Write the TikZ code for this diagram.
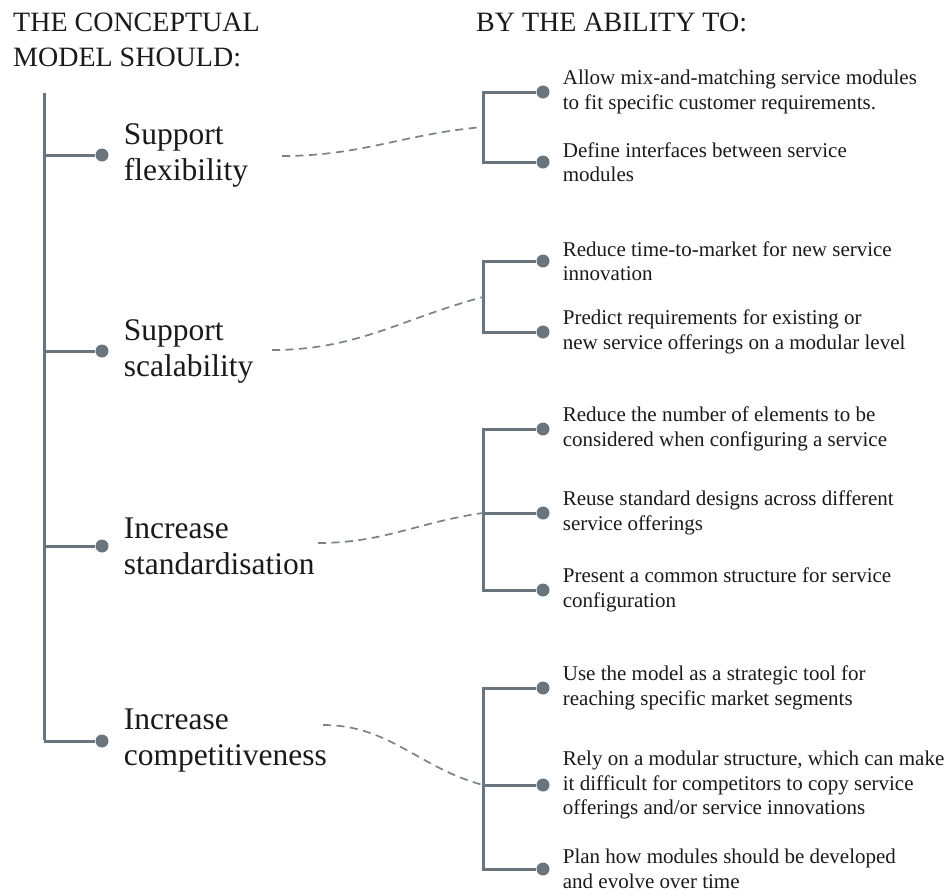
\documentclass[tikz,border=0pt]{standalone}
\usepackage{fontspec}
\setmainfont{Liberation Serif}
\usetikzlibrary{positioning}

\definecolor{slate}{RGB}{106,116,124}
\definecolor{ink}{RGB}{26,26,26}

\tikzset{
  spine/.style={draw=slate, line width=3pt},
  knob/.style={circle, fill=slate, inner sep=0pt, minimum size=13pt},
  link/.style={draw=slate!90, line width=1.7pt, dash pattern=on 8pt off 5.5pt},
  heading/.style={anchor=north west, align=left, inner sep=0pt, text=ink,
    font=\fontsize{28}{35}\selectfont},
  goal/.style={align=left, inner sep=0pt, text=ink,
    font=\fontsize{31.5}{36}\selectfont},
  ability/.style={align=left, inner sep=0pt, text=ink,
    font=\fontsize{21}{24.5}\selectfont},
}

\begin{document}
\begin{tikzpicture}[x=1pt,y=-1pt]
  \useasboundingbox (0,0) rectangle (951,895);

  % headings
  \node[heading] (hleft) at (13,13) {THE CONCEPTUAL\\MODEL SHOULD:};
  \node[heading] (hright) at (476,13) {BY THE ABILITY TO:};

  % left spine
  \coordinate (top) at (44,93);
  \foreach \n/\y in {1/155,2/351,3/546,4/741}{
    \coordinate (s\n) at (44,\y);
    \node[knob] (d\n) at (102,\y) {};
    \draw[spine] (s\n) -- (d\n);
  }
  \draw[spine] (top) -- ([yshift=1.5pt]s4);

  \node[goal, right=15pt of d1] (g1) {Support\\flexibility};
  \node[goal, right=15pt of d2] (g2) {Support\\scalability};
  \node[goal, right=15pt of d3] (g3) {Increase\\standardisation};
  \node[goal, right=15pt of d4] (g4) {Increase\\competitiveness};

  % right brackets
  \coordinate (b1) at (483,127);
  \coordinate (b2) at (483,297);
  \coordinate (b3) at (483,513);
  \coordinate (b4) at (483,785);

  \node[knob] (r11) at (543,92) {};
  \node[knob] (r12) at (543,162) {};
  \node[knob] (r21) at (543,261) {};
  \node[knob] (r22) at (543,332) {};
  \node[knob] (r31) at (543,429) {};
  \node[knob] (r32) at (543,513) {};
  \node[knob] (r33) at (543,590) {};
  \node[knob] (r41) at (543,688) {};
  \node[knob] (r42) at (543,785) {};
  \node[knob] (r43) at (543,869) {};

  \draw[spine] (r11) -| (b1) |- (r12);
  \draw[spine] (r21) -| (b2) |- (r22);
  \draw[spine] (r31) -| (b3) |- (r33);
  \draw[spine] (b3) -- (r32);
  \draw[spine] (r41) -| (b4) |- (r43);
  \draw[spine] (b4) -- (r42);

  \node[ability, right=13pt of r11] (t11) {Allow mix-and-matching service modules\\to fit specific customer requirements.};
  \node[ability, right=13pt of r12] (t12) {Define interfaces between service\\modules};
  \node[ability, right=13pt of r21] (t21) {Reduce time-to-market for new service\\innovation};
  \node[ability, right=13pt of r22] (t22) {Predict requirements for existing or\\new service offerings on a modular level};
  \node[ability, right=13pt of r31] (t31) {Reduce the number of elements to be\\considered when configuring a service};
  \node[ability, right=13pt of r32] (t32) {Reuse standard designs across different\\service offerings};
  \node[ability, right=13pt of r33] (t33) {Present a common structure for service\\configuration};
  \node[ability, right=13pt of r41] (t41) {Use the model as a strategic tool for\\reaching specific market segments};
  \node[ability, right=13pt of r42] (t42) {Rely on a modular structure, which can make\\it difficult for competitors to copy service\\offerings and/or service innovations};
  \node[ability, right=13pt of r43] (t43) {Plan how modules should be developed\\and evolve over time};

  % dashed links
  \coordinate (c1) at (282,156);
  \coordinate (c2) at (272,350);
  \coordinate (c3) at (318,543);
  \coordinate (c4) at (323,725);
  \draw[link] (c1) to[out=0,in=185] (b1);
  \draw[link] (c2) to[out=0,in=195] (b2);
  \draw[link] (c3) to[out=0,in=188] (b3);
  \draw[link] (c4) to[out=0,in=165] (b4);
\end{tikzpicture}
\end{document}
